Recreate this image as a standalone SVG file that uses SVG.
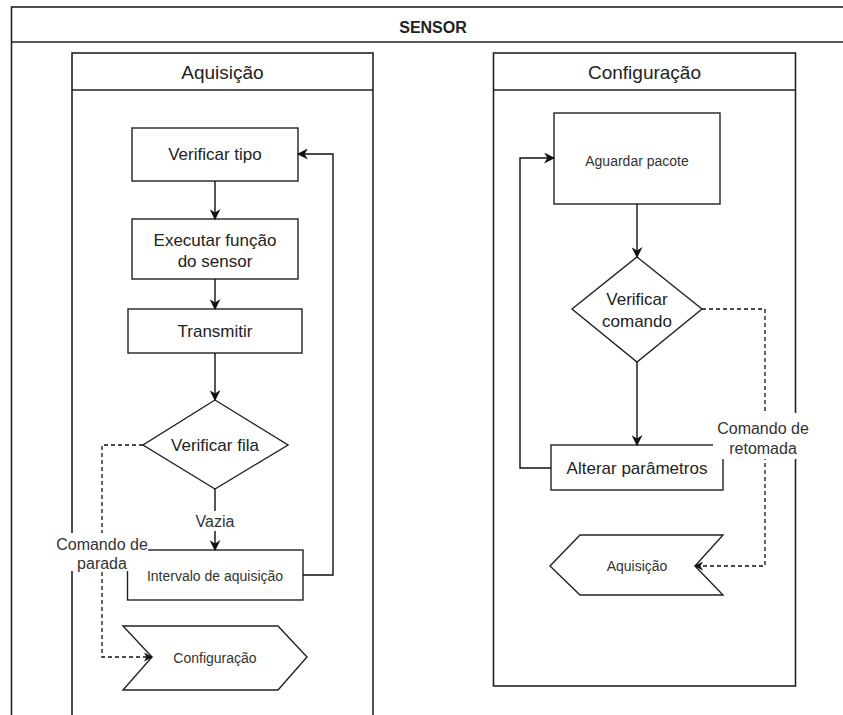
<svg xmlns="http://www.w3.org/2000/svg" width="843" height="715" viewBox="0 0 843 715">
<style>
.frame{fill:#fff;stroke:#222;stroke-width:1.6}
.node{fill:#fff;stroke:#222;stroke-width:1.4}
.t{font-family:"Liberation Sans",Arial,sans-serif;fill:#222;text-anchor:middle;dominant-baseline:central}
.big{font-size:17px}
.hdr{font-size:19px}
.sm{font-size:14px;fill:#333}
.lbl{font-size:16px;fill:#333}
.edge{fill:none;stroke:#111;stroke-width:1.4}
.dash{fill:none;stroke:#111;stroke-width:1.3;stroke-dasharray:4 3}
.bg{fill:#fff;stroke:none}
</style>
<defs>
<marker id="arr" viewBox="0 0 10 10" refX="9" refY="5" markerWidth="9" markerHeight="9" markerUnits="userSpaceOnUse" orient="auto">
<path d="M0,0 L10,5 L0,10 L3,5 z" fill="#111"/>
</marker>
<marker id="arrB" viewBox="0 0 10 10" refX="9" refY="5" markerWidth="11" markerHeight="11" markerUnits="userSpaceOnUse" orient="auto">
<path d="M0,0 L10,5 L0,10 L3,5 z" fill="#111"/>
</marker>
</defs>
<rect width="843" height="715" fill="#fff"/>
<g id="sensor">
<rect class="frame" x="11.5" y="7" width="840" height="720"/>
<line x1="11.5" y1="42" x2="843" y2="42" stroke="#222" stroke-width="1.6"/>
<text class="t" x="433" y="27" style="font-size:16px;font-weight:bold">SENSOR</text>
</g>
<g id="lane-aquisicao">
<rect class="frame" x="72" y="53" width="301" height="680"/>
<line x1="72" y1="90" x2="373" y2="90" stroke="#222" stroke-width="1.6"/>
<text class="t hdr" x="222.5" y="72">Aquisição</text>
</g>
<g id="lane-configuracao">
<rect class="frame" x="493.5" y="53" width="302" height="633"/>
<line x1="493.5" y1="90" x2="795.5" y2="90" stroke="#222" stroke-width="1.6"/>
<text class="t hdr" x="644.5" y="72">Configuração</text>
</g>
<g id="n-verificar-tipo">
<rect class="node" x="132" y="128" width="166" height="53"/>
<text class="t big" x="215" y="154.5">Verificar tipo</text>
</g>
<g id="n-executar">
<rect class="node" x="132" y="219" width="166" height="60"/>
<text class="t big" x="215" y="240">Executar função</text>
<text class="t big" x="215" y="261">do sensor</text>
</g>
<g id="n-transmitir">
<rect class="node" x="128" y="309" width="174" height="44"/>
<text class="t big" x="215" y="331">Transmitir</text>
</g>
<g id="n-verificar-fila">
<polygon class="node" points="215,400 288,445 215,489 143,445"/>
<text class="t big" x="215" y="445">Verificar fila</text>
</g>
<g id="n-intervalo">
<rect class="node" x="127.5" y="550" width="175.5" height="50"/>
<text class="t sm" x="215" y="576">Intervalo de aquisição</text>
</g>
<g id="n-configuracao-step">
<polygon class="node" points="123,626 278,626 307,657 278,690 123,690 152,657"/>
<text class="t sm" x="215" y="658">Configuração</text>
</g>
<g id="n-aguardar">
<rect class="node" x="554" y="113" width="166" height="91"/>
<text class="t sm" x="637" y="161">Aguardar pacote</text>
</g>
<g id="n-verificar-comando">
<polygon class="node" points="637,257 702,309 637,362 572,309"/>
<text class="t big" x="637" y="299">Verificar</text>
<text class="t big" x="637" y="321">comando</text>
</g>
<g id="n-alterar">
<rect class="node" x="551" y="445" width="172" height="45"/>
<text class="t big" x="637" y="468">Alterar parâmetros</text>
</g>
<g id="n-aquisicao-step">
<polygon class="node" points="550,566 580,535 723,535 695,566 723,595 580,595"/>
<text class="t sm" x="637" y="566">Aquisição</text>
</g>
<g id="connectors">
<line class="edge" x1="215" y1="181" x2="215" y2="219" marker-end="url(#arrB)"/>
<line class="edge" x1="215" y1="279" x2="215" y2="309" marker-end="url(#arrB)"/>
<line class="edge" x1="215" y1="353" x2="215" y2="400" marker-end="url(#arrB)"/>
<line class="edge" x1="215" y1="489" x2="215" y2="550" marker-end="url(#arrB)"/>
<polyline class="edge" points="303,575 333,575 333,154 298,154" marker-end="url(#arrB)"/>
<polyline class="dash" points="143,445 102,445 102,657 152,657" marker-end="url(#arr)"/>
<line class="edge" x1="637" y1="204" x2="637" y2="257" marker-end="url(#arrB)"/>
<line class="edge" x1="637" y1="362" x2="637" y2="445" marker-end="url(#arrB)"/>
<polyline class="edge" points="551,468 520,468 520,158 554,158" marker-end="url(#arrB)"/>
<polyline class="dash" points="702,309 765,309 765,566 695,566" marker-end="url(#arr)"/>
</g>
<g id="labels">
<rect class="bg" x="196" y="511" width="38" height="20"/>
<text class="t lbl" x="215" y="521">Vazia</text>
<rect class="bg" x="56" y="533" width="92" height="38"/>
<text class="t lbl" x="102" y="544">Comando de</text>
<text class="t lbl" x="102" y="563">parada</text>
<rect class="bg" x="713" y="413" width="100" height="46"/>
<text class="t lbl" x="763" y="428">Comando de</text>
<text class="t lbl" x="763" y="448">retomada</text>
</g>
</svg>
